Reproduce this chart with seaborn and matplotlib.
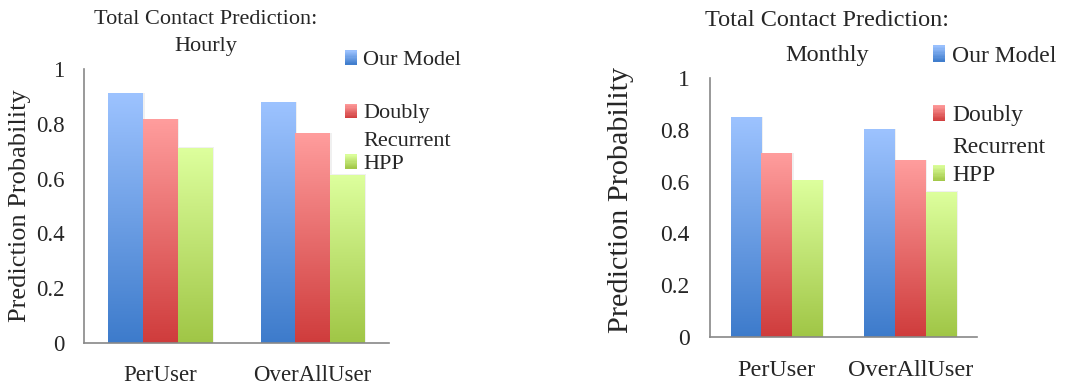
import numpy as np
import pandas as pd
import matplotlib
matplotlib.use("Agg")
import matplotlib.pyplot as plt
from matplotlib.colors import LinearSegmentedColormap, to_rgb
from matplotlib.patches import Rectangle
import seaborn as sns

# ---- data -------------------------------------------------------------
categories = ["PerUser", "OverAllUser"]
series_names = ["Our Model", "Doubly Recurrent", "HPP"]
legend_labels = ["Our Model", "Doubly\nRecurrent", "HPP"]

hourly_our_model = [0.910, 0.877]
hourly_doubly = [0.815, 0.764]
hourly_hpp = [0.710, 0.612]

monthly_our_model = [0.846, 0.798]
monthly_doubly = [0.707, 0.679]
monthly_hpp = [0.601, 0.558]

y_ticks = [0, 0.2, 0.4, 0.6, 0.8, 1.0]
y_tick_labels = ["0", "0.2", "0.4", "0.6", "0.8", "1"]

# gradient colours per series: (top, bottom)
grad_colors = {
    "Our Model": ("#9dc3ff", "#3d7bcb"),
    "Doubly Recurrent": ("#ff9d9d", "#cf3c3c"),
    "HPP": ("#ddff9d", "#a0c646"),
}

sns.set_style("white")
plt.rcParams["font.family"] = ["Liberation Serif", "DejaVu Serif"]
AXIS_GRAY = "#888888"

W, H = 1075, 387
fig = plt.figure(figsize=(W / 100, H / 100), dpi=100)


def frame(df):
    rows = []
    for name, vals in df.items():
        for c, v in zip(categories, vals):
            rows.append({"category": c, "series": name, "value": v})
    return pd.DataFrame(rows)


def px_axes(x0, x1, y_top, y_bot):
    return fig.add_axes([x0 / W, 1 - y_bot / H, (x1 - x0) / W, (y_bot - y_top) / H])


def gradient_bars(ax):
    grad = np.linspace(0, 1, 256).reshape(-1, 1)
    for name, cont in zip(series_names, ax.containers):
        top, bot = grad_colors[name]
        cmap = LinearSegmentedColormap.from_list(name, [bot, top])
        for bar in cont:
            x, w, h = bar.get_x(), bar.get_width(), bar.get_height()
            bar.set_facecolor("none")
            bar.set_edgecolor("none")
            # soft shadow behind the bar
            ax.add_patch(Rectangle((x + 0.012, 0), w, h + 0.004, facecolor="#000000",
                                   alpha=0.06, edgecolor="none", zorder=1.5, clip_on=False))
            ax.imshow(grad, extent=[x, x + w, 0, h], origin="lower", cmap=cmap,
                      aspect="auto", zorder=2, interpolation="bilinear")


def style_axes(ax, tick_fs, xlab_fs, ylab_fs, ytick_len, ytick_pad, ylab_xy):
    ax.set_xlim(-0.5, 1.5)
    ax.set_ylim(0, 1)
    sns.despine(ax=ax)
    for s in ("left", "bottom"):
        ax.spines[s].set_color(AXIS_GRAY)
        ax.spines[s].set_linewidth(1.2)
    ax.set_yticks(y_ticks)
    ax.set_yticklabels(y_tick_labels, fontsize=tick_fs)
    ax.tick_params(axis="y", length=ytick_len, width=1.2, color=AXIS_GRAY,
                   direction="out", pad=ytick_pad)
    ax.set_xticks(range(len(categories)))
    ax.set_xticklabels(categories, fontsize=xlab_fs)
    ax.tick_params(axis="x", which="major", length=0, pad=16)
    ax.set_xticks([-0.5, 0.5, 1.5], minor=True)
    ax.tick_params(axis="x", which="minor", length=8, width=1.2, color=AXIS_GRAY, direction="out")
    ax.set_xlabel("")
    ax.set_ylabel("Prediction Probability", fontsize=ylab_fs)
    ax.yaxis.set_label_coords(*ylab_xy)


def legend_block(x_sq, x_txt, ys, sq_w, sq_h, fs, text_ys, lsp):
    for name, label, yc, ty in zip(series_names, legend_labels, ys, text_ys):
        top, bot = grad_colors[name]
        n = 12
        c_top, c_bot = np.array(to_rgb(top)), np.array(to_rgb(bot))
        for i in range(n):
            f = (i + 0.5) / n
            col = c_bot + (c_top - c_bot) * f
            y0 = yc + sq_h / 2 - (i + 1) * sq_h / n
            fig.patches.append(Rectangle((x_sq / W, 1 - (y0 + sq_h / n) / H), sq_w / W,
                                         sq_h / n / H + 0.0005, transform=fig.transFigure,
                                         facecolor=col, edgecolor="none"))
        fig.text(x_txt / W, 1 - ty / H, label, fontsize=fs, ha="left", va="top",
                 linespacing=lsp)


# ---- left panel: hourly ----------------------------------------------
ax1 = px_axes(84, 389, 69, 343)
sns.barplot(data=frame({"Our Model": hourly_our_model, "Doubly Recurrent": hourly_doubly,
                        "HPP": hourly_hpp}),
            x="category", y="value", hue="series", hue_order=series_names,
            width=0.68, legend=False, ax=ax1)
gradient_bars(ax1)
style_axes(ax1, tick_fs=16.5, xlab_fs=16.5, ylab_fs=19, ytick_len=6, ytick_pad=8,
           ylab_xy=(-0.174, 0.502))
fig.text(206 / W, 1 - 20 / H, "Total Contact Prediction:", fontsize=16, ha="center", va="center")
fig.text(206 / W, 1 - 47 / H, "Hourly", fontsize=16, ha="center", va="center")
legend_block(345, 363, [57.5, 111, 161.5], 12, 14, 16, [51, 104, 155], 1.62)

# ---- right panel: monthly --------------------------------------------
ax2 = px_axes(710, 977, 77.7, 337.3)
sns.barplot(data=frame({"Our Model": monthly_our_model, "Doubly Recurrent": monthly_doubly,
                        "HPP": monthly_hpp}),
            x="category", y="value", hue="series", hue_order=series_names,
            width=0.69, legend=False, ax=ax2)
gradient_bars(ax2)
style_axes(ax2, tick_fs=17, xlab_fs=17.5, ylab_fs=21.8, ytick_len=7.5, ytick_pad=7,
           ylab_xy=(-0.285, 0.531))
fig.text(827 / W, 1 - 20 / H, "Total Contact Prediction:", fontsize=17.5, ha="center", va="center")
fig.text(827 / W, 1 - 55 / H, "Monthly", fontsize=17.5, ha="center", va="center")
legend_block(933, 952, [53.5, 113, 173], 12, 16, 17, [46, 105, 165], 1.7)

fig.savefig("out.png", dpi=100)
